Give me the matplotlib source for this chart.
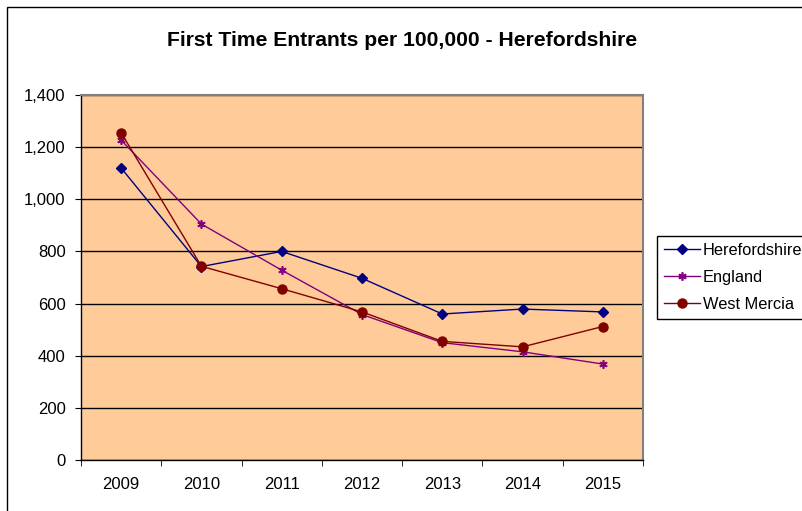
import matplotlib
matplotlib.use("Agg")
import matplotlib.pyplot as plt
from matplotlib.patches import Rectangle

plt.rcParams['font.family'] = ['Liberation Sans', 'DejaVu Sans']

years = ["2009", "2010", "2011", "2012", "2013", "2014", "2015"]
herefordshire = [1120, 742, 800, 697, 560, 579, 568]
england = [1227, 905, 728, 558, 450, 415, 368]
west_mercia = [1255, 743, 657, 568, 455, 434, 512]
yticks = [0, 200, 400, 600, 800, 1000, 1200, 1400]

fig = plt.figure(figsize=(8.03, 5.11), dpi=100)
fig.patch.set_facecolor('white')
# outer chart border (clipped at right/bottom like the reference)
fig.patches.append(Rectangle((7/803, -0.1), 1.0, 1 - 7/511 + 0.1, transform=fig.transFigure,
                             fill=False, edgecolor='black', linewidth=1.0))

ax = fig.add_axes([81/803, 51/511, (643-81)/803, (460-95)/511])
ax.set_facecolor('#FFCC99')
x = list(range(len(years)))

ax.plot(x, herefordshire, color='#000080', marker='D', markersize=5.5, linewidth=1.0,
        label='Herefordshire', zorder=3)
ax.plot(x, england, color='#800080', marker=(6, 2, 0), markersize=6, markeredgewidth=1.2,
        linewidth=1.0, label='England', zorder=3)
ax.plot(x, west_mercia, color='#800000', marker='o', markersize=6.5, linewidth=1.0,
        label='West Mercia', zorder=3)

ax.set_xlim(-0.5, len(years) - 0.5)
ax.set_ylim(0, 1400)
ax.set_yticks(yticks)
ax.set_yticklabels([f"{v:,}" for v in yticks], fontsize=12)
ax.yaxis.grid(True, color='black', linewidth=1.0)
ax.set_axisbelow(True)

ax.set_xticks(x)
ax.set_xticklabels(years, fontsize=12)
ax.tick_params(axis='x', which='major', length=0, pad=12)
ax.set_xticks([i - 0.5 for i in range(len(years) + 1)], minor=True)
ax.tick_params(axis='x', which='minor', length=4, color='black', direction='out')
ax.tick_params(axis='y', length=4, color='black', direction='out', pad=7)

for s in ['left', 'bottom']:
    ax.spines[s].set_color('black')
    ax.spines[s].set_linewidth(1.0)
for s in ['top', 'right']:
    ax.spines[s].set_color('#808080')
    ax.spines[s].set_linewidth(1.5)

fig.text(402/803, 1 - 40/511, 'First Time Entrants per 100,000 - Herefordshire',
         ha='center', va='center', fontsize=15.2, fontweight='bold')

leg = fig.legend(loc='upper left', bbox_to_anchor=(657/803, 1 - 236/511),
                 fontsize=11.8, frameon=True, fancybox=False, edgecolor='black',
                 framealpha=1, borderpad=0.4, labelspacing=0.75, handlelength=2.2,
                 handletextpad=0.2, borderaxespad=0)
leg.get_frame().set_linewidth(1.0)

fig.savefig('out.png', dpi=100)
